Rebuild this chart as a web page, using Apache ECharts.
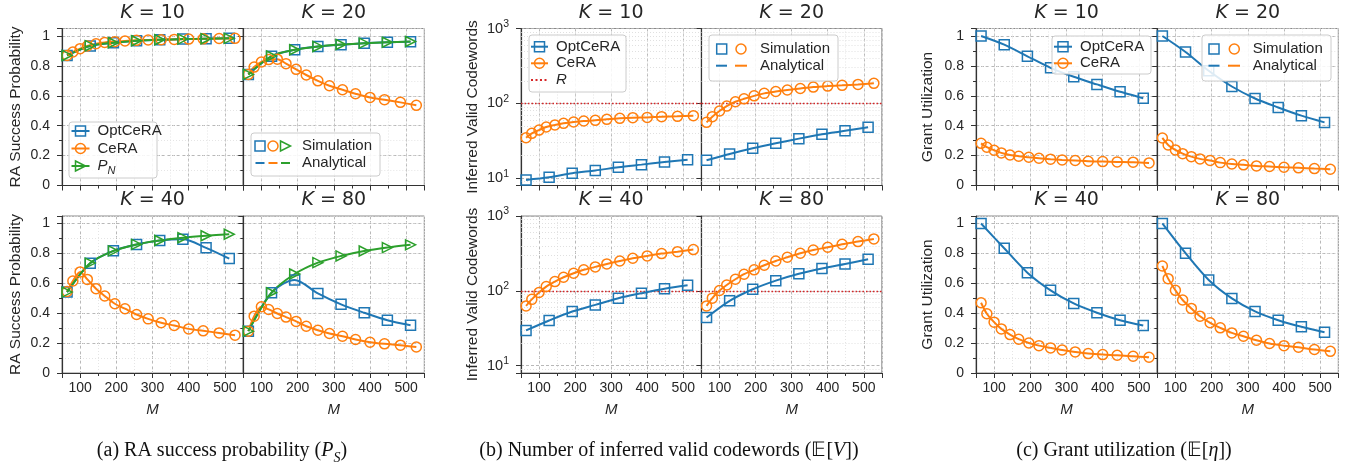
<!DOCTYPE html>
<html><head><meta charset="utf-8">
<script src="https://cdn.jsdelivr.net/npm/echarts@6/dist/echarts.min.js"></script>
<style>html,body{margin:0;padding:0;background:#fff}#c{width:1358px;height:468px}</style>
</head><body><div id="c"></div><script>
// ---------- data ----------
const M_OPT = [64,128,192,256,320,384,448,512];
const M_CE = [64,80,100,120,144,168,196,224,256,288,324,360,400,440,484,528];
const K_VALUES = [10,20,40,80];
const X_TICKS = [100,200,300,400,500];
const LOG_MINOR = [9,20,30,40,50,60,70,80,90,200,300,400,500,600,700,800,900];
const R_VALUE = 100;

// (a) RA success probability
const psOptK10 = [0.87,0.933,0.955,0.968,0.975,0.979,0.982,0.984];
const psCeK10  = [0.87,0.893,0.915,0.933,0.948,0.957,0.962,0.967,0.971,0.973,0.975,0.977,0.979,0.981,0.983,0.984];
const psPnK10  = [0.87,0.935,0.955,0.968,0.975,0.979,0.982,0.984];
const psOptK20 = [0.743,0.864,0.908,0.929,0.942,0.952,0.958,0.962];
const psCeK20  = [0.743,0.792,0.826,0.842,0.845,0.815,0.777,0.739,0.70,0.667,0.64,0.614,0.589,0.574,0.556,0.536];
const psPnK20  = [0.743,0.866,0.908,0.930,0.943,0.952,0.958,0.963];
const psOptK40 = [0.541,0.734,0.817,0.859,0.886,0.895,0.837,0.765];
const psCeK40  = [0.545,0.615,0.676,0.626,0.564,0.515,0.463,0.43,0.391,0.362,0.336,0.318,0.295,0.282,0.268,0.253];
const psPnK40  = [0.541,0.735,0.817,0.86,0.886,0.905,0.918,0.928];
const psOptK80 = [0.28,0.537,0.622,0.532,0.459,0.403,0.353,0.32];
const psCeK80  = [0.28,0.38,0.443,0.425,0.398,0.374,0.345,0.313,0.286,0.264,0.246,0.224,0.206,0.195,0.186,0.174];
const psPnK80  = [0.28,0.537,0.662,0.738,0.783,0.816,0.839,0.857];

// (b) inferred valid codewords
const ivOptK10 = [9.5,10.3,11.7,12.7,14.0,15.2,16.5,17.7];
const ivCeK10  = [34.8,39.8,44,48.3,51.4,54.1,56.4,58.1,59.3,61.2,63.1,64.4,65,66.4,67.1,68.5];
const ivOptK20 = [17.4,21.1,25.1,29.3,33.8,38.6,43.2,47.9];
const ivCeK20  = [55.8,66.4,79,92,105,115,126,136,144,151,158,165,170,174,179,185];
const ivOptK40 = [29.6,40.2,53,65,79.8,93,107,119];
const ivCeK40  = [63,77,95,114,133,152,172,191,209,229,251,273,293,315,334,356];
const ivOptK80 = [44,73.6,105,137,169,199,229,264];
const ivCeK80  = [63,80,101,120,143,167,191,220,251,281,318,352,382,419,455,494];

// (c) grant utilization
const guOptK10 = [1.0,0.942,0.864,0.787,0.727,0.676,0.627,0.584];
const guCeK10  = [0.282,0.256,0.236,0.218,0.204,0.196,0.189,0.182,0.176,0.171,0.167,0.162,0.16,0.158,0.156,0.151];
const guOptK20 = [1.0,0.893,0.767,0.662,0.582,0.522,0.467,0.422];
const guCeK20  = [0.318,0.271,0.238,0.213,0.193,0.178,0.167,0.153,0.144,0.138,0.131,0.127,0.122,0.118,0.113,0.109];
const guOptK40 = [1.0,0.834,0.671,0.553,0.465,0.403,0.353,0.318];
const guCeK40  = [0.47,0.396,0.34,0.295,0.257,0.226,0.201,0.183,0.168,0.154,0.141,0.13,0.123,0.119,0.112,0.105];
const guOptK80 = [1.0,0.801,0.622,0.499,0.412,0.353,0.309,0.273];
const guCeK80  = [0.716,0.631,0.553,0.488,0.432,0.38,0.336,0.302,0.268,0.246,0.219,0.197,0.183,0.172,0.157,0.145];

// ---------- style ----------
const SANS = "'Liberation Sans', Arial, Helvetica, sans-serif";
const MATH = "'DejaVu Sans', sans-serif";
const SERIF = "'Liberation Serif', 'Times New Roman', serif";
const TXT = '#262626';
const C_BLUE='#1f77b4', C_ORANGE='#ff7f0e', C_GREEN='#2ca02c', C_RED='#d62728';
const TRI = 'path://M0,0L10,5L0,10Z';

const panels = [
  {type:'linear', yName:'RA Success Probability', lefts:[62,243.3], w:181, nameGap:38,
   lines:[[psOptK10,psCeK10,psPnK10],[psOptK20,psCeK20,psPnK20],[psOptK40,psCeK40,psPnK40],[psOptK80,psCeK80,psPnK80]]},
  {type:'log', yName:'Inferred Valid Codewords', lefts:[521,701.5], w:180.3, nameGap:40,
   lines:[[ivOptK10,ivCeK10],[ivOptK20,ivCeK20],[ivOptK40,ivCeK40],[ivOptK80,ivCeK80]]},
  {type:'linear', yName:'Grant Utilization', lefts:[976,1157.3], w:181, nameGap:40,
   lines:[[guOptK10,guCeK10],[guOptK20,guCeK20],[guOptK40,guCeK40],[guOptK80,guCeK80]]}
];
const rowTop = [28.5, 216], rowH = 157;

const grid=[], xAxis=[], yAxis=[], series=[], graphic=[];

function mkSeries(name, xs, ys, color, symbol, xi, yi){
  return {type:'line', name, xAxisIndex:xi, yAxisIndex:yi,
    data: xs.map((x,i)=>[x, ys[i]]), smooth:0.3, symbol, symbolSize:10, showSymbol:true,
    lineStyle:{color, width:2}, itemStyle:{color:'rgba(255,255,255,0)', borderColor:color, borderWidth:1.5},
    emphasis:{disabled:true}, animation:false, z:2};
}
function linFmt(v){ const r=Math.round(v*10)/10; if (Math.abs(v-r)>1e-6 || r>1) return ''; return r===0?'0':(r===1?'1':r.toFixed(1)); }
function logFmt(v){ const l=Math.log10(v), e=Math.round(l); if (Math.abs(l-e)>1e-6) return ''; return '{b|10}{s|'+e+'}'; }

panels.forEach((p)=>{
  for (let r=0;r<2;r++) for (let c=0;c<2;c++){
    const k=r*2+c, gi=grid.length, left=p.lefts[c], top=rowTop[r];
    grid.push({left, top, width:p.w, height:rowH, show:true, borderColor:'#8a8a8a', borderWidth:1,
      backgroundColor:'rgba(0,0,0,0)', outerBoundsMode:'none', containLabel:false});
    const xi=xAxis.length;
    xAxis.push({type:'value', gridIndex:gi, position:'bottom', min:50, max:550, splitNumber:5,
      axisLine:{show:true,onZero:false,lineStyle:{color:'#333',width:1.2}},
      axisTick:{show:true,length:5,lineStyle:{color:'#333',width:1}},
      axisLabel:{show:r===1, margin:8, fontSize:14, fontFamily:SANS, color:TXT, formatter:v=>(X_TICKS.indexOf(v)>=0?String(v):'')},
      splitLine:{show:true,lineStyle:{color:'#b0b0b0',type:[3,2],width:0.9}},
      name: r===1?'M':'', nameLocation:'middle', nameGap:29,
      nameTextStyle:{fontSize:15,fontStyle:'italic',fontFamily:SANS,color:TXT}});
    xAxis.push({type:'value', gridIndex:gi, position:'bottom', min:50, max:550, interval:50,
      axisLine:{show:false,onZero:false}, axisTick:{show:true,length:3,lineStyle:{color:'#333'}}, axisLabel:{show:false},
      splitLine:{show:true,lineStyle:{color:'#dedede',type:[1,2],width:0.8}}});
    const yi=yAxis.length;
    const yCommon = {gridIndex:gi, position:'left',
      axisLine:{show:true,onZero:false,lineStyle:{color:'#333',width:1.2}},
      axisTick:{show:true,length:5,lineStyle:{color:'#333',width:1}},
      splitLine:{show:true,lineStyle:{color:'#b0b0b0',type:[3,2],width:0.9}},
      name: c===0?p.yName:'', nameLocation:'middle', nameGap:p.nameGap,
      nameTextStyle:{fontSize:15.5,fontFamily:SANS,color:TXT}};
    if (p.type==='linear'){
      yAxis.push(Object.assign({type:'value', min:0, max:1.05, interval:0.2,
        axisLabel:{show:c===0, margin:12, fontSize:14, fontFamily:SANS, color:TXT, formatter:linFmt}}, yCommon));
      yAxis.push({type:'value', gridIndex:gi, position:'left', min:0, max:1.05, interval:0.1,
        axisLine:{show:false,onZero:false}, axisTick:{show:true,length:3,lineStyle:{color:'#333'}}, axisLabel:{show:false},
        splitLine:{show:true,lineStyle:{color:'#dedede',type:[1,2],width:0.8}}});
    } else {
      yAxis.push(Object.assign({type:'log', logBase:10, min:8, max:1000,
        axisLabel:{show:c===0, margin:12, fontSize:14, fontFamily:SANS, color:TXT, formatter:logFmt,
          rich:{b:{fontSize:14.5,fontFamily:SANS,color:TXT,lineHeight:20,verticalAlign:'middle'},
                s:{fontSize:10.5,fontFamily:SANS,color:TXT,lineHeight:10,verticalAlign:'top'}}}}, yCommon));
      series.push({type:'line', name:'minor', xAxisIndex:xi, yAxisIndex:yi, data:[], silent:true, z:1,
        markLine:{silent:true, symbol:'none', z:1, animation:false, label:{show:false},
          lineStyle:{color:'#d8d8d8', type:[1,2], width:0.8}, emphasis:{disabled:true},
          data:LOG_MINOR.map(v=>({yAxis:v}))}});
      series.push({type:'line', name:'R', xAxisIndex:xi, yAxisIndex:yi, data:[], silent:true, z:1,
        markLine:{silent:true, symbol:'none', z:1, animation:false, label:{show:false},
          lineStyle:{color:C_RED, type:[1.5,2], width:1.3}, emphasis:{disabled:true},
          data:[{yAxis:R_VALUE}]}});
    }
    const L = p.lines[k];
    series.push(mkSeries('OptCeRA', M_OPT, L[0], C_BLUE, 'rect', xi, yi));
    series.push(mkSeries('CeRA', M_CE, L[1], C_ORANGE, 'circle', xi, yi));
    if (L[2]) series.push(mkSeries('P_N', M_OPT, L[2], C_GREEN, TRI, xi, yi));
    // subplot title
    graphic.push({type:'text', x:left+p.w/2, y:top-15.5, z:100,
      style:{text:'{i|K}{n| = '+K_VALUES[k]+'}', fontSize:19, fontFamily:MATH, fill:TXT,
        align:'center', textAlign:'center', verticalAlign:'middle', textVerticalAlign:'middle',
        rich:{i:{fontStyle:'italic', fontSize:19, fontFamily:MATH, fill:TXT},
              n:{fontSize:19, fontFamily:MATH, fill:TXT}}}});
  }
});

// ---------- legends (graphic) ----------
function lLine(x1,x2,y,color,dash){ return {type:'line', z:101, shape:{x1,y1:y,x2,y2:y}, style:{stroke:color, lineWidth:2, lineDash:dash||null}}; }
function lRect(cx,cy,color){ return {type:'rect', z:102, shape:{x:cx-5,y:cy-5,width:10,height:10}, style:{fill:'none', stroke:color, lineWidth:1.5}}; }
function lCirc(cx,cy,color){ return {type:'circle', z:102, shape:{cx,cy,r:5}, style:{fill:'none', stroke:color, lineWidth:1.5}}; }
function lTri(cx,cy,color){ return {type:'polygon', z:102, shape:{points:[[cx-5,cy-5],[cx+5,cy],[cx-5,cy+5]]}, style:{fill:'none', stroke:color, lineWidth:1.5}}; }
function lText(x,y,text,rich){ return {type:'text', x, y, z:102, style:{text, fontSize:15, fontFamily:SANS, fill:TXT,
  align:'left', textAlign:'left', verticalAlign:'middle', textVerticalAlign:'middle', rich}}; }
function lBox(x,y,w,h){ return {type:'rect', z:100, shape:{x,y,width:w,height:h,r:3}, style:{fill:'rgba(255,255,255,0.85)', stroke:'#cccccc', lineWidth:1}}; }
const subRich = {i:{fontStyle:'italic', fontSize:15, fontFamily:SANS, fill:TXT, lineHeight:20, verticalAlign:'middle'},
                 sub:{fontStyle:'italic', fontSize:11, fontFamily:SANS, fill:TXT, lineHeight:11, verticalAlign:'bottom'}};
function methodLegend(bx,by,bw,bh,lx1,lx2,rows){
  graphic.push(lBox(bx,by,bw,bh));
  rows.forEach(rw=>{
    const mx=(lx1+lx2)/2;
    graphic.push(lLine(lx1,lx2,rw.y,rw.color,rw.dash));
    if (rw.sym==='rect') graphic.push(lRect(mx,rw.y,rw.color));
    if (rw.sym==='circ') graphic.push(lCirc(mx,rw.y,rw.color));
    if (rw.sym==='tri') graphic.push(lTri(mx,rw.y,rw.color));
    graphic.push(lText(lx2+8, rw.y, rw.text, rw.rich));
  });
}
methodLegend(69,122,88,56,71.5,89.5,[
  {y:131,color:C_BLUE,sym:'rect',text:'OptCeRA'},
  {y:148.5,color:C_ORANGE,sym:'circ',text:'CeRA'},
  {y:166,color:C_GREEN,sym:'tri',text:'{i|P}{sub|N}',rich:subRich}]);
methodLegend(529,35,97,57,531,548,[
  {y:46.7,color:C_BLUE,sym:'rect',text:'OptCeRA'},
  {y:63.3,color:C_ORANGE,sym:'circ',text:'CeRA'},
  {y:80,color:C_RED,sym:'none',dash:[2,2.5],text:'{i|R}',rich:subRich}]);
methodLegend(1052,36,99,38,1054,1072,[
  {y:46.7,color:C_BLUE,sym:'rect',text:'OptCeRA'},
  {y:63.3,color:C_ORANGE,sym:'circ',text:'CeRA'}]);

// Simulation / Analytical legends
graphic.push(lBox(251,133,129,43));
graphic.push(lRect(260,146,C_BLUE), lCirc(273,146,C_ORANGE), lTri(285.5,146,C_GREEN), lText(302,146,'Simulation'));
graphic.push(lLine(255.5,264.5,163,C_BLUE), lLine(268.5,277.5,163,C_ORANGE), lLine(281,290,163,C_GREEN), lText(302,163,'Analytical'));

graphic.push(lBox(709,35,129,46));
graphic.push(lRect(721.7,49,C_BLUE), lCirc(741,49,C_ORANGE), lText(760,49,'Simulation'));
graphic.push(lLine(716,727,65.7,C_BLUE), lLine(735,747,65.7,C_ORANGE), lText(760,65.7,'Analytical'));

graphic.push(lBox(1202,35,129,46));
graphic.push(lRect(1214,49,C_BLUE), lCirc(1234.3,49,C_ORANGE), lText(1252.7,49,'Simulation'));
graphic.push(lLine(1208.5,1219.5,65.7,C_BLUE), lLine(1228,1240,65.7,C_ORANGE), lText(1252.7,65.7,'Analytical'));

// ---------- captions ----------
const CAP = 20;
const capRich = {
  n:{fontSize:CAP, fontFamily:SERIF, fill:'#111', lineHeight:28, verticalAlign:'middle'},
  i:{fontSize:CAP, fontFamily:SERIF, fontStyle:'italic', fill:'#111', lineHeight:28, verticalAlign:'middle'},
  sub:{fontSize:14, fontFamily:SERIF, fontStyle:'italic', fill:'#111', lineHeight:13, verticalAlign:'bottom'}};
function caption(x, text){ graphic.push({type:'text', x, y:451, z:100, style:{text, rich:capRich, fontSize:CAP, fontFamily:SERIF, fill:'#111',
  align:'center', textAlign:'center', verticalAlign:'middle', textVerticalAlign:'middle'}}); }
caption(222, '{n|(a) RA success probability (}{i|P}{sub|S}{n|)}');
caption(669, '{n|(b) Number of inferred valid codewords (𝔼[}{i|V}{n|])}');
caption(1124, '{n|(c) Grant utilization (𝔼[}{i|η}{n|])}');

const chart = echarts.init(document.getElementById('c'), null, {renderer:'canvas', width:1358, height:468});
chart.setOption({animation:false, backgroundColor:'#ffffff', grid, xAxis, yAxis, series, graphic});
</script></body></html>
